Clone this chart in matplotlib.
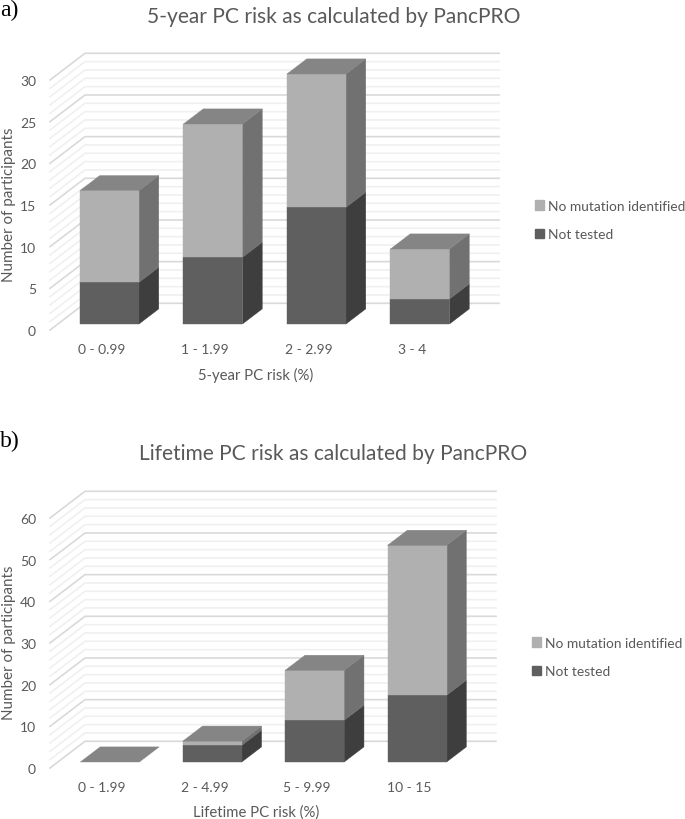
import matplotlib
matplotlib.use('Agg')
import matplotlib.pyplot as plt
from matplotlib.patches import Patch
import numpy as np

plt.rcParams['font.family'] = ['Lato', 'DejaVu Sans']

W, H = 685, 820

# Data
five_year_bins = ['0 - 0.99', '1 - 1.99', '2 - 2.99', '3 - 4']
five_year_not_tested = [5, 8, 14, 3]
five_year_no_mutation = [11, 16, 16, 6]

lifetime_bins = ['0 - 1.99', '2 - 4.99', '5 - 9.99', '10 - 15']
lifetime_not_tested = [0, 4, 10, 16]
lifetime_no_mutation = [0, 1, 12, 36]

# Colours
TEXT = '#595959'
FRONT = {'no_mut': '#b0b0b0', 'not_tested': '#5f5f5f'}
SIDE = {'no_mut': '#717171', 'not_tested': '#3e3e3e'}
TOP = '#858585'
GRID_MAJOR = '#d9d9d9'
GRID_MINOR = '#f0f0f0'

# Depth positions, 0 is the axis plane and 1 the back wall
BAR_FRONT = 0.225
BAR_BACK = 0.79
DEPTH_X_PX = 35
DEPTH_Y_PX = 26.7
BAR_W_PX = 59


def draw_panel(fig, bins, not_tested, no_mutation, cfg):
    left, right, y0, ymax_tick = cfg['left'], cfg['right'], cfg['y0'], cfg['ymax']
    px_per_unit = cfg['px_per_unit']
    spacing = cfg['spacing']
    top_px = y0 - ymax_tick * px_per_unit - DEPTH_Y_PX
    ax = fig.add_axes([left / W, 1 - y0 / H, (right - left) / W, (y0 - top_px) / H])
    ax.set_xlim((left - cfg['first_px']) / spacing, (right - cfg['first_px']) / spacing)
    ax.set_ylim(0, (y0 - top_px) / px_per_unit)
    ax.patch.set_visible(False)
    for s in ax.spines.values():
        s.set_visible(False)

    dx = DEPTH_X_PX / spacing
    dy = DEPTH_Y_PX / px_per_unit
    half = BAR_W_PX / 2 / spacing
    x_left, x_right = ax.get_xlim()

    # side wall and back wall gridlines
    for v in np.arange(0, ymax_tick + 0.01, cfg['minor']):
        major = abs(v / cfg['major'] - round(v / cfg['major'])) < 1e-6
        c = GRID_MAJOR if major else GRID_MINOR
        z = 2 if major else 1
        ax.plot([x_left, x_left + dx, x_right], [v, v + dy, v + dy], color=c,
                lw=1.2, zorder=z, clip_on=False, solid_joinstyle='miter')

    def pt(x, v, d):
        return (x + d * dx, v + d * dy)

    # stacked 3D columns
    for i, (nt, nm) in enumerate(zip(not_tested, no_mutation)):
        base = 0
        for key, val in (('not_tested', nt), ('no_mut', nm)):
            if val > 0:
                xl, xr = i - half, i + half
                front = [pt(xl, base, BAR_FRONT), pt(xr, base, BAR_FRONT),
                         pt(xr, base + val, BAR_FRONT), pt(xl, base + val, BAR_FRONT)]
                side = [pt(xr, base, BAR_FRONT), pt(xr, base, BAR_BACK),
                        pt(xr, base + val, BAR_BACK), pt(xr, base + val, BAR_FRONT)]
                ax.fill(*zip(*side), color=SIDE[key], lw=0.3, zorder=5)
                ax.fill(*zip(*front), color=FRONT[key], lw=0.3, zorder=5)
            base += val
        xl, xr = i - half, i + half
        top = [pt(xl, base, BAR_FRONT), pt(xr, base, BAR_FRONT),
               pt(xr, base, BAR_BACK), pt(xl, base, BAR_BACK)]
        ax.fill(*zip(*top), color=TOP, lw=0.3, zorder=6)

    ax.set_xticks(range(len(bins)))
    ax.set_xticklabels(bins)
    ax.set_yticks(np.arange(0, ymax_tick + 1, cfg['major']))
    ax.tick_params(axis='both', length=0, labelsize=10, labelcolor=TEXT)
    ax.tick_params(axis='x', pad=cfg['xpad'])
    ax.tick_params(axis='y', pad=10)

    fig.text(cfg['title_x'] / W, 1 - cfg['title_y'] / H, cfg['title'], fontsize=15.1,
             color=TEXT, ha='center', va='center')
    fig.text(cfg['xlabel_x'] / W, 1 - cfg['xlabel_y'] / H, cfg['xlabel'], fontsize=10.7,
             color=TEXT, ha='center', va='center')
    fig.text(9 / W, 1 - cfg['ylabel_y'] / H, 'Number of participants', fontsize=10.9,
             color=TEXT, rotation=90, ha='center', va='center')
    fig.text(0, 1 - cfg['tag_y'] / H, cfg['tag'], fontsize=17, color='black',
             family='Liberation Serif', ha='left', va='center')

    handles = [Patch(color=FRONT['no_mut'], label='No mutation identified'),
               Patch(color=FRONT['not_tested'], label='Not tested')]
    fig.legend(handles=handles, loc='center left', frameon=False, labelcolor=TEXT,
               fontsize=9.9, handlelength=0.66, handleheight=0.66, handletextpad=0.28,
               labelspacing=1.2, borderpad=0, borderaxespad=0,
               bbox_to_anchor=(cfg['legend_x'] / W, 1 - cfg['legend_y'] / H))


def main():
    fig = plt.figure(figsize=(W / 100, H / 100), dpi=100)

    draw_panel(fig, five_year_bins, five_year_not_tested, five_year_no_mutation, {
        'left': 50, 'right': 499, 'y0': 331, 'ymax': 30, 'px_per_unit': 250 / 30,
        'major': 5, 'minor': 1, 'spacing': 103.5, 'first_px': 101.6, 'xpad': 9.7,
        'title': '5-year PC risk as calculated by PancPRO', 'title_x': 334, 'title_y': 17,
        'xlabel': '5-year PC risk (%)', 'xlabel_x': 256, 'xlabel_y': 375,
        'ylabel_y': 205, 'tag': 'a)', 'tag_y': 10, 'legend_x': 535, 'legend_y': 221,
    })
    draw_panel(fig, lifetime_bins, lifetime_not_tested, lifetime_no_mutation, {
        'left': 50, 'right': 496, 'y0': 769, 'ymax': 60, 'px_per_unit': 250 / 60,
        'major': 10, 'minor': 2, 'spacing': 102.4, 'first_px': 102, 'xpad': 9.7,
        'title': 'Lifetime PC risk as calculated by PancPRO', 'title_x': 333, 'title_y': 454,
        'xlabel': 'Lifetime PC risk (%)', 'xlabel_x': 256, 'xlabel_y': 813,
        'ylabel_y': 643, 'tag': 'b)', 'tag_y': 441, 'legend_x': 532, 'legend_y': 658,
    })

    fig.savefig('out.png', dpi=100)


if __name__ == "__main__":
    main()
